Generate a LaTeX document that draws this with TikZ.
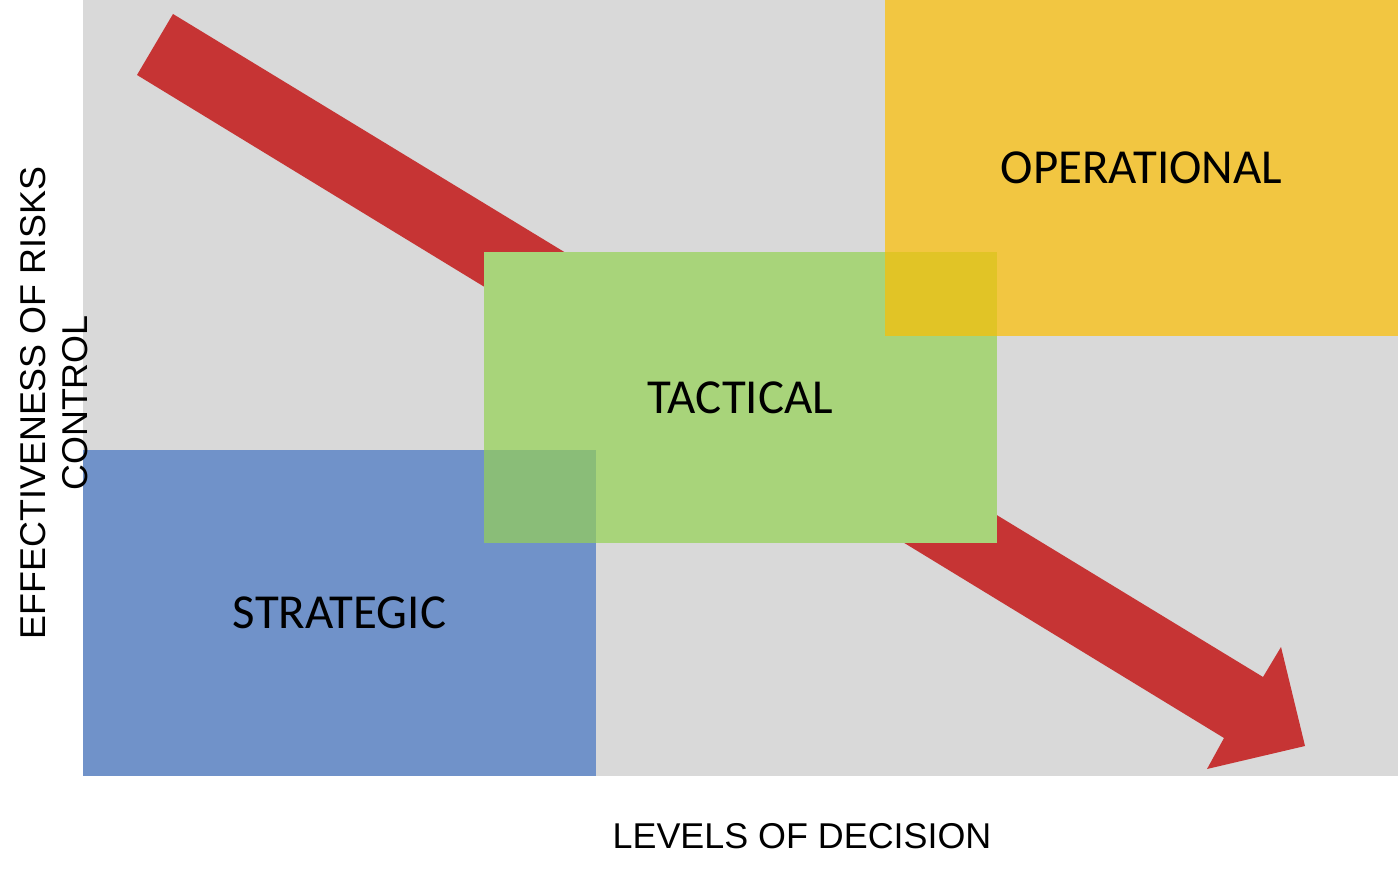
\documentclass[tikz,border=0pt]{standalone}
\usepackage{fontspec}
\setmainfont{Carlito}
\newfontfamily\arialfont{Liberation Sans}
\definecolor{bggray}{HTML}{D9D9D9}
\definecolor{arrowred}{HTML}{C63434}
\definecolor{stratblue}{HTML}{7092C9}
\definecolor{tactgreen}{HTML}{A8D47A}
\definecolor{operorange}{HTML}{F2C641}
\definecolor{mixyellow}{HTML}{E1C426}
\definecolor{mixgreen}{HTML}{8ABD78}
\begin{document}
\begin{tikzpicture}[x=0.01cm,y=-0.01cm,
  level/.style={inner sep=0pt, outer sep=0pt, minimum width=5.13cm, font=\fontsize{13.9}{17}\selectfont},
  axislabel/.style={inner sep=0pt, font=\arialfont\fontsize{10.2}{12}\selectfont, align=center}]

\useasboundingbox (0,0) rectangle (1398,880);
\fill[bggray] (83,0) rectangle (1398,776);

% the big arrow
\fill[arrowred] (173,14) -- (1263,677) -- (1281,647) -- (1305,746)
  -- (1207,769) -- (1224,738) -- (137,75) -- cycle;

\node[level, fill=stratblue, minimum height=3.26cm] (strategic) at (339.5,613) {STRATEGIC};
\node[level, fill=tactgreen, minimum height=2.91cm] (tactical) at (740.5,397.5) {TACTICAL};
\fill[mixgreen] (tactical.west |- strategic.north) rectangle (strategic.east |- tactical.south);
\node[level, fill=operorange, minimum height=3.36cm] (operational) at (1141.5,168) {OPERATIONAL};
\fill[mixyellow] (operational.west |- tactical.north) rectangle (tactical.east |- operational.south);

\node[axislabel] (xlabel) at (802,836) {LEVELS OF DECISION};
\node[axislabel, rotate=90] (ylabel) at (54,403) {EFFECTIVENESS OF RISKS\\CONTROL};

\end{tikzpicture}
\end{document}
